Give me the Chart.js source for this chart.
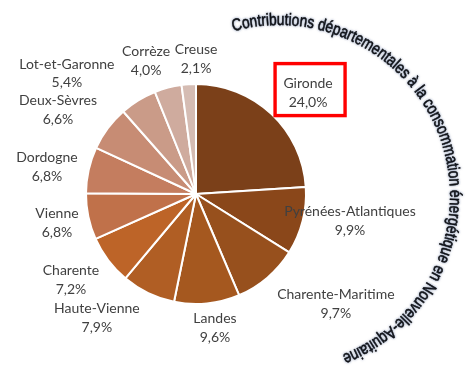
<!DOCTYPE html>
<html>
<head>
<meta charset="utf-8">
<script src="https://cdn.jsdelivr.net/npm/chart.js@4/dist/chart.umd.min.js"></script>
<style>
  html, body { margin: 0; padding: 0; background: #ffffff; }
  canvas { display: block; }
</style>
</head>
<body>
<canvas id="chart" width="475" height="374"></canvas>
<script>
// Departments and their share (%) of regional energy consumption
const departements = ['Gironde', 'Pyrénées-Atlantiques', 'Charente-Maritime', 'Landes',
  'Haute-Vienne', 'Charente', 'Vienne', 'Dordogne', 'Deux-Sèvres', 'Lot-et-Garonne',
  'Corrèze', 'Creuse'];
const parts = [24.0, 9.9, 9.7, 9.6, 7.9, 7.2, 6.8, 6.8, 6.6, 5.4, 4.0, 2.1];
const titre = 'Contributions départementales à la consommation énergétique en Nouvelle-Aquitaine';
const miseEnAvant = 'Gironde';

// Slice fills, darkest for the largest contributor
const couleurs = ['#7b4019', '#8a471a', '#97501d', '#a5581f', '#b05e24', '#bd6428',
  '#c0714a', '#c47d5f', '#c78c74', '#ca9b88', '#cfab9e', '#d5bcb3'];

// Label placement: angular shift from the slice middle (deg) and distance in radii
const decalageDeg = [4.8, -4.3, -11.3, -2.3, 12.9, 2.6, 0.1, -2.3, -5.4, -15.3, -5.8, 3.8];
const distance = [1.371, 1.421, 1.618, 1.230, 1.443, 1.379, 1.291, 1.377, 1.469, 1.605, 1.292, 1.227];

const pct = v => v.toFixed(1).replace('.', ',') + '%';

const etiquettes = {
  id: 'etiquettes',
  afterDatasetsDraw(chart) {
    const ctx = chart.ctx;
    const meta = chart.getDatasetMeta(0);
    ctx.save();
    ctx.font = '14px Lato';
    ctx.fillStyle = '#404040';
    ctx.textAlign = 'center';
    ctx.textBaseline = 'middle';
    meta.data.forEach((arc, i) => {
      const p = arc.getProps(['x', 'y', 'startAngle', 'endAngle', 'outerRadius'], true);
      const a = (p.startAngle + p.endAngle) / 2 + decalageDeg[i] * Math.PI / 180;
      const d = p.outerRadius * distance[i];
      const lx = p.x + Math.cos(a) * d;
      const ly = p.y + Math.sin(a) * d;
      ctx.fillText(departements[i], lx, ly - 9.2);
      ctx.fillText(pct(parts[i]), lx, ly + 9.2);
      if (departements[i] === miseEnAvant) {
        ctx.strokeStyle = '#ff0000';
        ctx.lineWidth = 3.4;
        ctx.strokeRect(lx - 33, ly - 29.5, 70, 52);
      }
    });
    ctx.restore();
  }
};

// Title written along an arc around the right side of the pie
const titreCourbe = {
  id: 'titreCourbe',
  afterDraw(chart) {
    const ctx = chart.ctx;
    const arc0 = chart.getDatasetMeta(0).data[0];
    const cx = arc0.x + 83, cy = arc0.y + 2, r = 171;
    const debut = -15.5 * Math.PI / 180, fin = 158.4 * Math.PI / 180;
    ctx.save();
    ctx.font = '17px "Liberation Sans"';
    ctx.fillStyle = '#0a0a0a';
    ctx.textAlign = 'center';
    ctx.textBaseline = 'alphabetic';
    ctx.shadowColor = 'rgba(60,85,135,0.6)';
    ctx.shadowBlur = 2.5;
    const total = ctx.measureText(titre).width;
    const s = r * (fin - debut) / total;
    let acc = 0;
    for (const ch of titre) {
      const w = ctx.measureText(ch).width;
      const t = debut + (acc + w / 2) * s / r;
      ctx.save();
      ctx.translate(cx + r * Math.sin(t), cy - r * Math.cos(t));
      ctx.rotate(t);
      ctx.scale(s, 1);
      ctx.fillText(ch, 0, 0);
      ctx.lineWidth = 0.5;
      ctx.strokeStyle = '#0a0a0a';
      ctx.strokeText(ch, 0, 0);
      ctx.restore();
      acc += w;
    }
    ctx.restore();
  }
};

new Chart(document.getElementById('chart'), {
  type: 'pie',
  data: {
    labels: departements,
    datasets: [{
      data: parts,
      backgroundColor: couleurs,
      borderColor: '#ffffff',
      borderWidth: 2
    }]
  },
  options: {
    responsive: false,
    animation: false,
    layout: { padding: { left: 85, top: 83, right: 168, bottom: 69 } },
    plugins: {
      legend: { display: false },
      tooltip: { enabled: false },
      title: { display: false }
    }
  },
  plugins: [etiquettes, titreCourbe]
});
</script>
</body>
</html>
